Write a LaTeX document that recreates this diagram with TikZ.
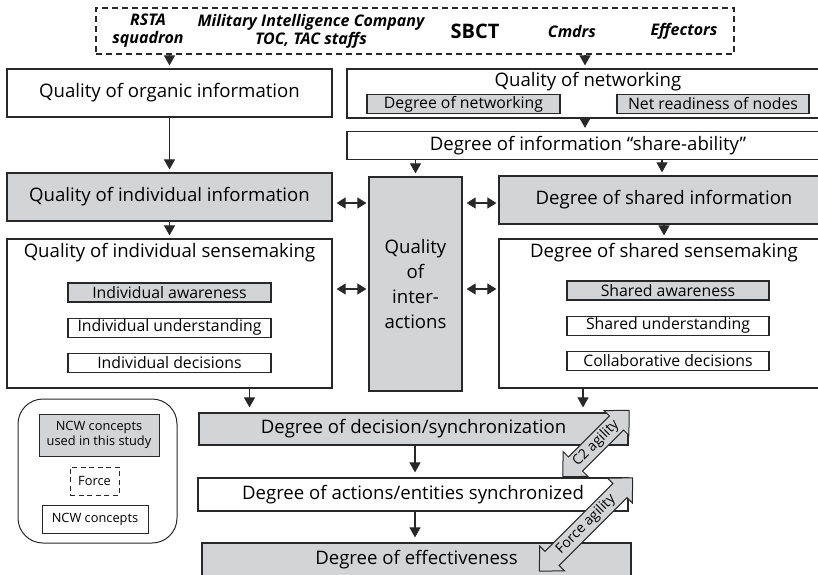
\documentclass[tikz,border=0pt]{standalone}
\usepackage{fontspec}
\setmainfont{Open Sans}
\usetikzlibrary{arrows.meta, calc, positioning}
\definecolor{ncwgray}{RGB}{211,212,214}
\definecolor{ncwline}{RGB}{40,40,40}
\tikzset{
	box/.style={draw=ncwline, line width=1.2pt, inner sep=0pt, align=center, font=\fontsize{18.6}{25}\selectfont},
	concept/.style={box, fill=white},
	studied/.style={box, fill=ncwgray},
	forcebox/.style={draw=ncwline, line width=1.1pt, dashed, dash pattern=on 6pt off 4pt, inner sep=0pt},
	subbox/.style={draw=ncwline, line width=1.1pt, inner sep=0pt, minimum height=19pt, font=\fontsize{15.8}{18}\selectfont},
	title/.style={inner sep=0pt, font=\fontsize{18.6}{22}\selectfont},
	unit/.style={inner sep=0pt, align=center, font=\fontsize{16}{18}\selectfont\bfseries\itshape},
	legendbox/.style={draw=ncwline, line width=1.0pt, inner sep=0pt, align=center, font=\fontsize{12.8}{15}\selectfont},
	arr/.style={draw=ncwline, line width=1.1pt, -{Triangle[width=11pt,length=10pt]}, shorten >=3pt},
	dbl/.style={draw=ncwline, line width=1.1pt, {Triangle[width=11pt,length=9pt]}-{Triangle[width=11pt,length=9pt]}, shorten <=4pt, shorten >=2pt},
	agility/.style={draw=ncwline, line width=1.0pt, fill=ncwgray, line join=miter}
}
\begin{document}
\begin{tikzpicture}[x=1pt, y=-1pt]
	\useasboundingbox (0,0) rectangle (818,574);
	\clip (0,0) rectangle (818,574);
	
	% Force
	\node[forcebox, minimum width=638, minimum height=46] (force) at (415,31) {};
	\node[unit] (rsta) at (148,31) {RSTA\\squadron};
	\node[unit] (mico) at (311,31) {Military Intelligence Company\\TOC, TAC staffs};
	\node[unit, font=\fontsize{20}{24}\selectfont\bfseries] (sbct) at (475,31) {SBCT};
	\node[unit] (cmdrs) at (572,31) {Cmdrs};
	\node[unit] (effectors) at (684,31) {Effectors};
	
	% top row
	\node[concept, minimum width=325, minimum height=48] (organic) at (169.5,93) {Quality of organic information};
	\node[concept, minimum width=482, minimum height=49] (network) at (588,93.5) {};
	\node[title, below=4pt of network.north] (networktitle) {Quality of networking};
	\node[subbox, fill=ncwgray, minimum width=193] (netdeg) at (463.5,104) {Degree of networking};
	\node[subbox, fill=ncwgray, minimum width=192] (netready) at (713,104) {Net readiness of nodes};
	\node[concept, minimum width=482, minimum height=28] (share) at (588,145.5) {Degree of information “share-ability”};
	
	% information
	\node[studied, minimum width=325, minimum height=48] (indinfo) at (169.5,197) {Quality of individual information};
	\node[studied, minimum width=330, minimum height=48] (shinfo) at (664,200) {Degree of shared information};
	\node[studied, minimum width=93, minimum height=214] (inter) at (415.5,284) {Quality\\of\\inter-\\actions};
	
	% sensemaking
	\node[concept, minimum width=325, minimum height=149] (indsense) at (169.5,313.5) {};
	\node[title, below=5pt of indsense.north] (indsensetitle) {Quality of individual sensemaking};
	\node[subbox, fill=ncwgray, minimum width=203] (indaware) at (169.5,292.5) {Individual awareness};
	\node[subbox, minimum width=203, below=15pt of indaware] (indund) {Individual understanding};
	\node[subbox, minimum width=203, below=15pt of indund] (inddec) {Individual decisions};
	
	\node[concept, minimum width=330, minimum height=149] (shsense) at (664,313.5) {};
	\node[title, below=5pt of shsense.north] (shsensetitle) {Degree of shared sensemaking};
	\node[subbox, fill=ncwgray, minimum width=202] (shaware) at (668,290.5) {Shared awareness};
	\node[subbox, minimum width=202, below=15pt of shaware] (shund) {Shared understanding};
	\node[subbox, minimum width=202, below=15pt of shund] (collab) {Collaborative decisions};
	
	% bottom chain
	\node[studied, minimum width=429, minimum height=32] (decsync) at (413.5,429) {Degree of decision/synchronization};
	\node[concept, minimum width=430, minimum height=33] (actions) at (413,494.5) {Degree of actions/entities synchronized};
	\node[studied, minimum width=429, minimum height=46] (effect) at (416.5,566) {};
	\node[title] (effecttitle) at (416.5,560) {Degree of effectiveness};
	
	% legend
	\node[draw=ncwline, line width=1.0pt, rounded corners=25pt, minimum width=159, minimum height=144] (legend) at (97.5,471) {};
	\node[legendbox, fill=ncwgray, minimum width=120, minimum height=42] (legused) at (99,435) {NCW concepts\\used in this study};
	\node[legendbox, dashed, dash pattern=on 5pt off 3.5pt, minimum width=49, minimum height=28] (legforce) at (94.5,481) {Force};
	\node[legendbox, minimum width=106, minimum height=28] (legncw) at (95,519) {NCW concepts};
	
	% arrows
	\draw[arr] (force.south -| organic.north) -- (organic.north);
	\draw[arr] ([xshift=-3]force.south -| network.north) -- ([xshift=-3]network.north);
	\draw[arr] ([xshift=-3]network.south) -- ([xshift=-3]share.north);
	\draw[arr] (organic) -- (indinfo);
	\draw[arr] (share.south -| inter.north) -- (inter.north);
	\draw[arr] ([xshift=-2]share.south -| shinfo.north) -- ([xshift=-2]shinfo.north);
	\draw[arr] (indinfo) -- (indsense);
	\draw[arr] (shinfo) -- (shsense);
	\draw[arr, shorten >=5pt] ([xshift=80]indsense.south) -- ([xshift=80]indsense.south |- decsync.north);
	\draw[arr, shorten >=5pt] ([xshift=-81]shsense.south) -- ([xshift=-81]shsense.south |- decsync.north);
	\draw[arr, shorten >=5pt] ([xshift=1.5]decsync.south) -- ([xshift=1.5]decsync.south |- actions.north);
	\draw[arr, shorten >=5pt] ([xshift=2]actions.south) -- ([xshift=2]actions.south |- effect.north);
	
	% interactions
	\draw[dbl] ([yshift=-6]indinfo.east) -- ([yshift=-6]indinfo.east -| inter.west);
	\draw[dbl] ([yshift=-6]indinfo.east -| inter.east) -- ([yshift=-6]indinfo.east -| shinfo.west);
	\draw[dbl] ([yshift=-5]inter.west -| indsense.east) -- ([yshift=-5]inter.west);
	\draw[dbl] ([yshift=-5]inter.east) -- ([yshift=-5]inter.east -| shsense.west);
	
	% agility
	\foreach \cx/\cy/\hl/\lab in {596/443.5/47/C2 agility, 586/524.5/66/Force agility} {
		\begin{scope}[shift={(\cx,\cy)}, rotate=45]
			\draw[agility] (-\hl,0) -- (-\hl+18,17.5) -- (-\hl+18,10) -- (\hl-18,10) -- (\hl-18,17.5) -- (\hl,0)
				-- (\hl-18,-17.5) -- (\hl-18,-10) -- (-\hl+18,-10) -- (-\hl+18,-17.5) -- cycle;
			\node[rotate=45, inner sep=0pt, font=\fontsize{14}{16}\selectfont] (agility-\cx) at (0,0) {\lab};
		\end{scope}
	}
	
\end{tikzpicture}
\end{document}
